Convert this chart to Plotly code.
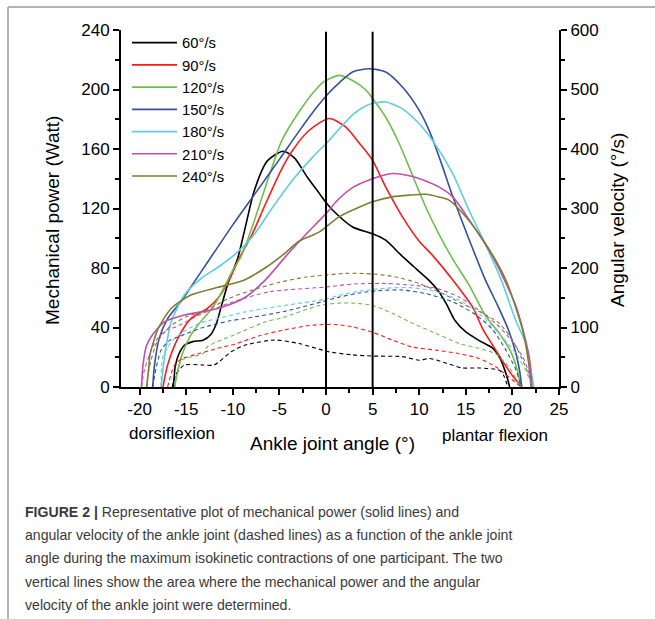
import plotly.graph_objects as go

# ---------------- data ----------------
series_names = ["60°/s", "90°/s", "120°/s", "150°/s", "180°/s", "210°/s", "240°/s"]
series_colors = ["#000000", "#ff1a1a", "#6cc04a", "#34509f", "#5fcde4", "#c04fae", "#7f7d33"]

# Mechanical power (W) vs ankle joint angle (deg) -- solid lines
angle_p60 = [-16.4, -16.3, -16.2, -15.8, -15.2, -14.3, -13.2, -12.4, -11.8, -11.2, -10.5, -9.5, -8.75, -7.7,
             -6.3, -4.6, -3.4, -2.0, -0.7, 0.0, 0.7, 2.85, 5.0, 6.4, 8.0, 9.4, 11.0, 12.0, 12.9, 13.8,
             15.0, 16.5, 17.9, 18.7, 19.2, 19.5, 19.7]
power_60 = [0, 6, 13, 22, 28, 30.5, 31.5, 35, 42, 55, 70, 86, 105, 132,
            152, 158.5, 154, 141, 130, 124, 119, 107.6, 103, 98.7, 89, 81, 72, 65, 56, 45,
            37, 31, 26, 19, 11, 5, 0]

angle_p90 = [-17.5, -17.0, -15.9, -14.5, -12.7, -11.6, -10.5, -9.2, -7.9, -6.5, -4.8, -3.6, -1.8, 0.35, 2.1,
             3.6, 5.0, 6.4, 8.2, 10.0, 11.5, 13.6, 15.7, 16.9, 18.2, 19.3, 20.2, 20.9, 21.0]
power_90 = [0, 14.8, 32.7, 46, 53, 59.6, 70.7, 88, 103, 123, 146, 159, 172.6, 180.5, 174.8,
            163.7, 152.4, 134.5, 114.4, 98, 88, 72, 54, 38, 25, 14, 6, 1, 0]

angle_p120 = [-16.25, -15.9, -15.4, -14.6, -13.6, -12.1, -11.1, -10.0, -9.1, -7.9, -6.1, -4.8, -3.0, -1.5,
              -0.3, 1.4, 2.85, 4.3, 5.0, 6.4, 7.85, 9.3, 10.7, 12.1, 13.6, 15.4, 17.1, 18.6, 19.8, 20.5, 20.9]
power_120 = [0, 11.4, 22.6, 33.8, 42.8, 54, 65, 78.6, 88, 108, 142, 165, 184, 197,
             205, 209.5, 206, 199.5, 194, 181.5, 163.7, 142, 121, 103, 86, 68, 48, 36, 24, 12, 0]

angle_p150 = [-18.6, -18.4, -17.9, -17.0, -15.5, -14.1, -12.7, -10.0, -7.5, -5.0, -3.0, -1.0, 0.35, 1.5,
              2.85, 4.6, 6.4, 8.2, 10.0, 11.1, 12.4, 13.6, 15.3, 17.1, 18.4, 19.6, 20.4, 20.8, 21.0]
power_150 = [0, 15, 32.7, 46, 58, 71, 84, 109, 131, 153, 171, 188, 198, 205,
             211.8, 214, 211.8, 201.7, 186, 172, 150, 128, 100, 72, 55, 38, 22, 10, 0]

angle_p180 = [-17.7, -17.3, -16.6, -15.2, -13.4, -11.6, -9.8, -7.9, -5.7, -3.6, -1.4, 0.35, 1.07, 2.85,
              4.6, 6.4, 8.2, 10.0, 11.4, 13.6, 15.4, 16.8, 18.8, 20.4, 21.4, 21.9, 22.3]
power_180 = [0, 21.5, 43.9, 61.8, 73, 80.5, 89, 101, 121, 139, 154.7, 165.9, 171, 183,
             190, 191.6, 187, 177, 166, 143.5, 118, 100, 72, 44, 30, 14, 0]

angle_p210 = [-19.8, -19.65, -19.3, -18.75, -17.3, -15.2, -12.9, -11.0, -8.75, -6.5, -4.3, -2.1, -0.7, 0.35,
              1.07, 2.85, 5.0, 7.1, 9.3, 10.5, 12.1, 13.6, 15.4, 17.9, 20.4, 21.8, 22.1]
power_210 = [0, 14, 27, 34, 43.9, 48.4, 51, 54, 60, 72, 88, 103, 112, 119,
             124.5, 134, 140, 143.5, 141.5, 139, 134.5, 127.8, 112, 87.5, 53.9, 20.3, 0]

angle_p240 = [-19.25, -19.0, -18.9, -18.0, -16.6, -14.5, -11.6, -8.75, -6.3, -4.5, -2.9, -0.7, 1.4, 3.6,
              5.0, 7.1, 8.9, 10.7, 12.1, 13.2, 15.0, 17.1, 19.3, 21.1, 21.7, 22.0]
power_240 = [0, 14, 21.5, 39.4, 52.9, 61.8, 67, 72, 81, 89.5, 98, 104.3, 114.4, 121,
             124.5, 127.8, 129, 129.6, 127.8, 125.6, 114.4, 96.5, 71.9, 38.3, 18, 0]

# Angular velocity (deg/s) vs ankle joint angle (deg) -- dashed lines
angle_v60 = [-16.5, -16.2, -15.9, -15.2, -13.2, -12.0, -10.2, -8.75, -5.5, -2.9, -0.4, 0.35, 2.85, 5.0,
             8.2, 10.0, 11.1, 12.9, 14.6, 16.4, 18.6, 19.1, 19.5]
veloc_60 = [0, 18, 26, 37, 37, 37, 59, 70, 79, 73, 62, 59, 54, 52,
            51, 45, 48, 40, 32, 32, 28, 18, 0]

angle_v90 = [-17.0, -16.25, -15.4, -14.1, -11.4, -9.8, -7.15, -4.5, -1.4, 1.07, 2.85, 5.0, 7.1, 9.3,
             11.8, 14.3, 16.4, 18.2, 19.6, 20.7, 21.0]
veloc_90 = [0, 37, 48, 54, 66, 72, 86, 96, 104, 105, 101, 92, 79, 67,
            62, 56, 48, 34, 17, 3, 0]

angle_v120 = [-16.2, -15.9, -15.5, -13.2, -12.7, -9.8, -6.4, -4.8, -0.7, 1.4, 2.85, 5.0, 7.1, 9.3,
              11.8, 14.3, 16.4, 18.2, 19.6, 20.7, 21.0]
veloc_120 = [0, 28, 45, 56, 68, 88, 110, 116, 137, 141, 141, 137, 124, 107,
             90, 73, 65, 56, 34, 6, 0]

angle_v150 = [-18.6, -18.2, -17.7, -16.8, -15.9, -13.4, -10.4, -8.75, -4.5, -0.5, 1.4, 3.6, 5.7, 8.2,
              10.7, 13.6, 16.1, 17.9, 19.3, 20.4, 20.9, 21.0]
veloc_150 = [0, 34, 62, 78, 84, 99, 111, 115, 127, 143, 151, 158, 162, 163,
             157, 143, 121, 96, 62, 28, 3, 0]

angle_v180 = [-17.7, -17.5, -16.4, -15.0, -13.4, -10.0, -8.75, -4.5, -0.3, 1.4, 3.6, 6.4, 8.9, 11.4,
              14.3, 16.8, 18.9, 20.4, 21.4, 22.1, 22.2]
veloc_180 = [0, 51, 79, 96, 108, 121, 126, 137, 147, 154, 161, 166, 167, 162,
             146, 118, 84, 56, 28, 3, 0]

angle_v210 = [-19.8, -19.5, -18.9, -18.2, -17.1, -16.1, -13.2, -10.0, -6.1, 0.0, 2.85, 6.4, 9.3, 11.8,
              14.3, 16.4, 18.2, 19.6, 21.1, 21.8, 22.1]
veloc_210 = [0, 28, 56, 79, 96, 101, 124, 143, 160, 168, 173, 174, 171, 166,
             151, 129, 107, 84, 51, 22, 0]

angle_v240 = [-19.2, -19.1, -18.2, -16.8, -15.0, -12.9, -10.4, -7.9, -5.0, -2.1, 0.0, 2.1, 5.0, 7.5,
              10.0, 12.5, 14.6, 16.8, 18.6, 20.0, 21.1, 21.8, 22.1]
veloc_240 = [0, 22, 73, 101, 118, 129, 149, 163, 176, 185, 188, 191, 190, 185,
             174, 157, 140, 124, 107, 79, 45, 18, 0]

power_angles = [angle_p60, angle_p90, angle_p120, angle_p150, angle_p180, angle_p210, angle_p240]
power_values = [power_60, power_90, power_120, power_150, power_180, power_210, power_240]
veloc_angles = [angle_v60, angle_v90, angle_v120, angle_v150, angle_v180, angle_v210, angle_v240]
veloc_values = [veloc_60, veloc_90, veloc_120, veloc_150, veloc_180, veloc_210, veloc_240]

analysis_bounds = [0, 5]          # the two vertical lines (deg)
x_ticks = [-20, -15, -10, -5, 0, 5, 10, 15, 20, 25]
x_tick_labels = ["-20", "-15", "-10", "-5", "0", "5", "10", "15", "20", "25"]
y_ticks = [0, 40, 80, 120, 160, 200, 240]
y2_ticks = [0, 100, 200, 300, 400, 500, 600]

caption_lines = [
    "<b>FIGURE 2 |</b> Representative plot of mechanical power (solid lines) and",
    "angular velocity of the ankle joint (dashed lines) as a function of the ankle joint",
    "angle during the maximum isokinetic contractions of one participant. The two",
    "vertical lines show the area where the mechanical power and the angular",
    "velocity of the ankle joint were determined.",
]

# ---------------- layout helpers (pixel -> paper) ----------------
W_FIG, H_FIG = 655, 619
L, R, T, B = 121, 559, 30, 387


def px(x):
    return (x - L) / (R - L)


def py(y):
    return (B - y) / (B - T)


FONT = "Arial, Liberation Sans, sans-serif"

fig = go.Figure()

for name, color, xs, ys in zip(series_names, series_colors, power_angles, power_values):
    fig.add_trace(go.Scatter(x=xs, y=ys, name=name, mode="lines",
                             line=dict(color=color, width=1.6, shape="spline", smoothing=0.7)))

for name, color, xs, ys in zip(series_names, series_colors, veloc_angles, veloc_values):
    fig.add_trace(go.Scatter(x=xs, y=ys, name=name + " velocity", mode="lines", yaxis="y2",
                             showlegend=False,
                             line=dict(color=color, width=1.1, dash="4px,3px", shape="spline", smoothing=0.7)))

for xb in analysis_bounds:
    fig.add_vline(x=xb, line=dict(color="black", width=2), y0=0, y1=0.995)

axis_common = dict(showline=True, linecolor="black", linewidth=2, ticks="outside",
                   ticklen=6, tickwidth=1.6, tickcolor="black", showgrid=False, zeroline=False,
                   tickfont=dict(family=FONT, size=17, color="black"))

fig.update_layout(
    width=W_FIG, height=H_FIG,
    margin=dict(l=L, r=W_FIG - R, t=T, b=H_FIG - B, pad=0),
    paper_bgcolor="white", plot_bgcolor="white",
    font=dict(family=FONT, color="black"),
    xaxis=dict(range=[-22, 25], tickvals=x_ticks, ticktext=x_tick_labels,
               minor=dict(ticks="outside", ticklen=4, tickwidth=1.6, tickcolor="black", tick0=-20, dtick=2.5),
               **axis_common),
    yaxis=dict(range=[0, 240], tickvals=y_ticks,
               minor=dict(ticks="outside", ticklen=4, tickwidth=1.6, tickcolor="black", tick0=0, dtick=20),
               **axis_common),
    yaxis2=dict(range=[0, 600], tickvals=y2_ticks, overlaying="y", side="right",
                minor=dict(ticks="outside", ticklen=4, tickwidth=1.6, tickcolor="black", tick0=0, dtick=50),
                **axis_common),
    legend=dict(x=px(127), y=py(26.5), xanchor="left", yanchor="top", bgcolor="rgba(0,0,0,0)",
                font=dict(family=FONT, size=14.8, color="black"), itemwidth=45, tracegroupgap=0),
    showlegend=True,
)

annots = [
    dict(text="Mechanical power (Watt)", x=px(52), y=py(221), textangle=-90, font_size=19),
    dict(text="Angular velocity (°/s)", x=px(617), y=py(220), textangle=-90, font_size=19),
    dict(text="Ankle joint angle (°)", x=px(332), y=py(444), font_size=19),
    dict(text="dorsiflexion", x=px(172), y=py(433), font_size=17),
    dict(text="plantar flexion", x=px(495), y=py(435), font_size=17),
]
for a in annots:
    fs = a.pop("font_size")
    fig.add_annotation(xref="paper", yref="paper", showarrow=False, xanchor="center", yanchor="middle",
                       font=dict(family=FONT, size=fs, color="black"), **a)

caption_y = [511.7, 535.0, 558.3, 581.7, 605.0]
for line, yc in zip(caption_lines, caption_y):
    fig.add_annotation(xref="paper", yref="paper", showarrow=False, x=px(23), y=py(yc),
                       xanchor="left", yanchor="middle", align="left", text=line,
                       font=dict(family=FONT, size=14.1, color="#3a3a3a"))

# frame around the figure (top and left edges visible)
frame = dict(type="line", xref="paper", yref="paper", line=dict(color="#9a9a9a", width=1.5))
fig.add_shape(x0=px(8), x1=px(W_FIG + 5), y0=py(7), y1=py(7), **frame)
fig.add_shape(x0=px(8), x1=px(8), y0=py(7), y1=py(H_FIG + 5), **frame)

fig.write_html("out.html", config={"displayModeBar": False},
               post_script="document.body.style.margin='0px';")
